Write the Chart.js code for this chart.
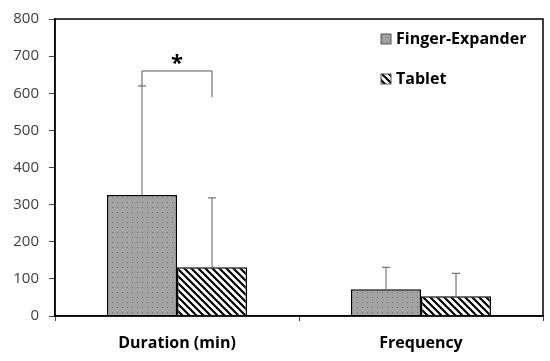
<!DOCTYPE html>
<html><head><meta charset="utf-8">
<script src="https://cdn.jsdelivr.net/npm/chart.js@4/dist/chart.umd.min.js"></script>
<style>html,body{margin:0;padding:0;background:#fff}#wrap{width:550px;height:361px}</style>
</head><body><div id="wrap"><canvas id="c" width="550" height="361"></canvas></div>
<script>
const categories = ["Duration (min)", "Frequency"];
const seriesNames = ["Finger-Expander", "Tablet"];
const fingerMeans = [326, 72];
const fingerSD = [294, 59];
const tabletMeans = [131, 53];
const tabletSD = [187, 62];
const yTicks = [0, 100, 200, 300, 400, 500, 600, 700, 800];
const sigBracket = { top: 660, leftEnd: 620, rightEnd: 590, label: "*" };

function dotPattern() {
  const p = document.createElement('canvas'); p.width = 5; p.height = 5;
  const g = p.getContext('2d');
  g.fillStyle = '#a3a3a3'; g.fillRect(0, 0, 5, 5);
  g.fillStyle = '#6e6e6e'; g.fillRect(2, 2, 1, 1);
  return g.createPattern(p, 'repeat');
}
function stripePattern() {
  const s = 7;
  const p = document.createElement('canvas'); p.width = s; p.height = s;
  const g = p.getContext('2d');
  g.fillStyle = '#fff'; g.fillRect(0, 0, s, s);
  g.strokeStyle = '#000'; g.lineWidth = 2.2;
  g.beginPath();
  g.moveTo(-1, -1); g.lineTo(s + 1, s + 1);
  g.moveTo(-1 - s, -1); g.lineTo(1, s + 1);
  g.moveTo(s - 1, -1); g.lineTo(2 * s + 1, s + 1);
  g.stroke();
  return g.createPattern(p, 'repeat');
}
const fills = [dotPattern(), stripePattern()];
const sds = [fingerSD, tabletSD];

const extras = {
  id: 'extras',
  afterDatasetsDraw(chart) {
    const ctx = chart.ctx, ca = chart.chartArea, y = chart.scales.y;
    ctx.save();
    // frame
    ctx.strokeStyle = '#000'; ctx.lineWidth = 1.5;
    ctx.strokeRect(ca.left, ca.top, ca.right - ca.left, ca.bottom - ca.top);
    // error bars
    ctx.strokeStyle = '#777'; ctx.lineWidth = 1.2;
    chart.data.datasets.forEach((ds, di) => {
      chart.getDatasetMeta(di).data.forEach((bar, i) => {
        const top = y.getPixelForValue(ds.data[i] + sds[di][i]);
        ctx.beginPath();
        ctx.moveTo(bar.x, bar.y); ctx.lineTo(bar.x, top);
        ctx.moveTo(bar.x - 4, top); ctx.lineTo(bar.x + 4, top);
        ctx.stroke();
      });
    });
    // significance bracket
    const b0 = chart.getDatasetMeta(0).data[0], b1 = chart.getDatasetMeta(1).data[0];
    const yt = y.getPixelForValue(sigBracket.top);
    ctx.strokeStyle = '#555'; ctx.lineWidth = 1;
    ctx.beginPath();
    ctx.moveTo(b0.x, y.getPixelForValue(sigBracket.leftEnd));
    ctx.lineTo(b0.x, yt); ctx.lineTo(b1.x, yt);
    ctx.lineTo(b1.x, y.getPixelForValue(sigBracket.rightEnd));
    ctx.stroke();
    ctx.fillStyle = '#000'; ctx.font = 'bold 22px "Open Sans", sans-serif';
    ctx.textAlign = 'center'; ctx.textBaseline = 'middle';
    ctx.fillText(sigBracket.label, (b0.x + b1.x) / 2, yt - 7);
    // legend
    ctx.font = 'bold 16px "Open Sans", sans-serif';
    ctx.textAlign = 'left';
    chart.data.datasets.forEach((ds, di) => {
      const ly = 39 + di * 40;
      ctx.fillStyle = fills[di];
      ctx.fillRect(381, ly - 5, 10, 10);
      ctx.strokeStyle = '#555'; ctx.lineWidth = 1;
      ctx.strokeRect(381, ly - 5, 10, 10);
      ctx.fillStyle = '#000';
      ctx.fillText(ds.label, 396, ly);
    });
    ctx.restore();
  }
};

new Chart(document.getElementById('c'), {
  type: 'bar',
  data: {
    labels: categories,
    datasets: [
      { label: seriesNames[0], data: fingerMeans, backgroundColor: fills[0], borderColor: '#000', borderWidth: 1.5, borderSkipped: 'bottom' },
      { label: seriesNames[1], data: tabletMeans, backgroundColor: fills[1], borderColor: '#000', borderWidth: 1.5, borderSkipped: 'bottom' }
    ]
  },
  options: {
    responsive: false, animation: false,
    layout: { padding: { top: 17, right: 7, left: 0, bottom: 0 } },
    categoryPercentage: 0.574, barPercentage: 1.0,
    plugins: { legend: { display: false }, tooltip: { enabled: false } },
    scales: {
      x: {
        offset: true,
        grid: { display: true, offset: true, drawOnChartArea: false, tickLength: 5, color: '#444', lineWidth: 1 },
        border: { color: '#000', width: 1.5 },
        ticks: { color: '#000', font: { family: '"Open Sans", sans-serif', size: 16, weight: 'bold' }, padding: 13 },
        afterFit(s) { s.height = 45; }
      },
      y: {
        min: 0, max: 800,
        afterBuildTicks(s) { s.ticks = yTicks.map(v => ({ value: v })); },
        grid: { display: true, drawOnChartArea: false, tickLength: 6, color: '#444', lineWidth: 1 },
        border: { color: '#000', width: 1.5 },
        ticks: { color: '#404040', font: { family: '"Open Sans", sans-serif', size: 15 }, padding: 10 },
        afterFit(s) { s.width = 55; }
      }
    }
  },
  plugins: [extras]
});
</script></body></html>
